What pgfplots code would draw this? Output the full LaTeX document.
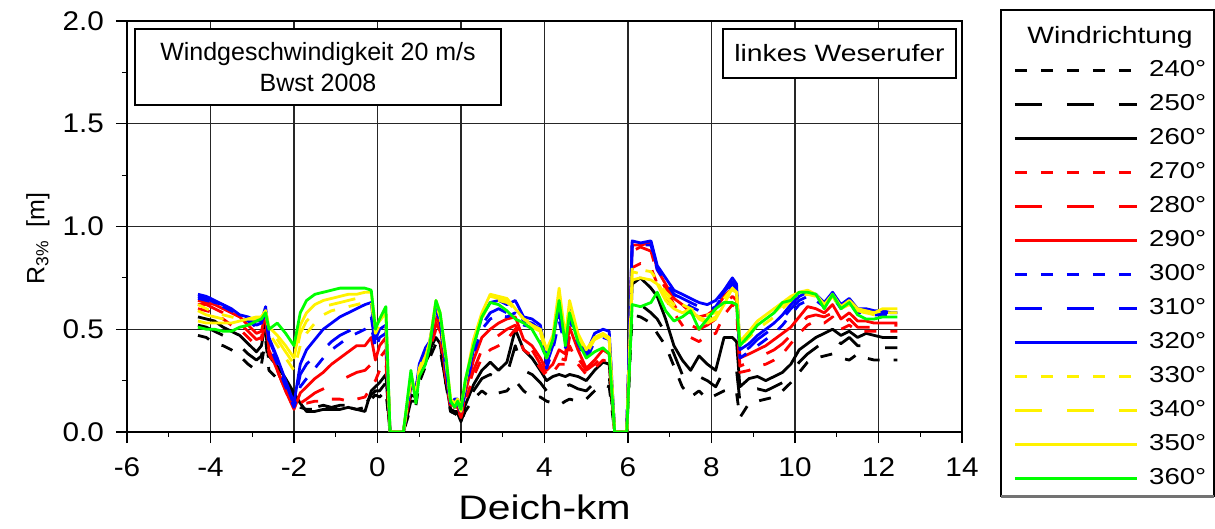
\documentclass[border=0pt]{standalone}
\usepackage{fontspec}
\setmainfont{Liberation Sans}
\newfontfamily\semisans{Liberation Sans}[FakeStretch=1.1]
\usepackage{graphicx}
\usepackage{pgfplots}
\usepackage{pgfplotstable}
\pgfplotsset{compat=1.18}
% horizontally widened text, as used in the legend and labels
\newcommand\wx[1]{\scalebox{1.2}[1]{#1}}

% R3% run-up along the left Weser bank, one column per wind direction
\pgfplotstableread{
x      d240 d250 d260 d270 d280 d290 d300 d310 d320 d330 d340 d350 d360
-4.30  .47  .52  .56  .60  .62  .64  .65  .66  .67  .62  .59  .54  .51
-4.10  .46  .51  .55  .59  .62  .63  .64  .65  .66  .60  .57  .53  .50
-3.90  .43  .49  .54  .58  .60  .62  .63  .63  .64  .58  .56  .53  .50
-3.70  .42  .47  .51  .55  .58  .60  .61  .62  .62  .57  .55  .53  .49
-3.50  .40  .45  .49  .52  .56  .58  .59  .60  .60  .56  .55  .53  .49
-3.30  .37  .42  .47  .50  .53  .56  .57  .57  .57  .55  .55  .54  .51
-3.10  .33  .38  .43  .46  .49  .52  .54  .55  .56  .55  .55  .55  .52
-2.90  .30  .35  .39  .42  .45  .48  .51  .52  .54  .55  .55  .56  .54
-2.78  .33  .37  .42  .44  .46  .49  .52  .53  .54  .55  .56  .56  .55
-2.68  .45  .50  .53  .55  .57  .58  .59  .60  .61  .59  .59  .59  .58
-2.60  .30  .33  .37  .38  .40  .40  .43  .45  .46  .48  .50  .51  .50
-2.40  .26  .29  .32  .30  .30  .30  .33  .35  .36  .42  .45  .47  .53
-2.20  .22  .24  .26  .20  .20  .20  .22  .24  .25  .36  .39  .42  .48
-2.00  .17  .18  .19  .12  .11  .11  .12  .13  .14  .30  .33  .36  .42
-1.85  .12  .13  .14  .14  .14  .19  .22  .28  .33  .42  .48  .52  .58
-1.70  .11  .12  .10  .14  .16  .22  .26  .33  .40  .48  .54  .58  .64
-1.50  .11  .12  .10  .15  .19  .26  .31  .37  .45  .53  .58  .62  .67
-1.30  .12  .13  .11  .15  .21  .29  .36  .40  .50  .57  .61  .64  .68
-1.10  .11  .12  .11  .16  .23  .33  .40  .44  .53  .59  .62  .65  .69
-0.90  .12  .13  .11  .16  .25  .36  .43  .47  .56  .60  .63  .66  .70
-0.70  .12  .13  .12  .15  .27  .39  .46  .49  .58  .61  .64  .67  .70
-0.50  .11  .12  .11  .16  .29  .42  .48  .51  .60  .62  .65  .67  .70
-0.30  .12  .13  .10  .17  .30  .42  .50  .53  .62  .63  .66  .68  .70
-0.15  .16  .18  .20  .22  .33  .46  .52  .56  .63  .64  .66  .68  .69
-0.05  .18  .20  .22  .25  .30  .35  .40  .42  .45  .48  .50  .52  .50
 0.05  .17  .20  .24  .30  .36  .42  .46  .48  .50  .52  .53  .54  .55
 0.20  .20  .24  .28  .34  .40  .46  .48  .50  .52  .54  .56  .58  .61
 0.30  0    0    0    0    0    0    0    0    0    0    0    0    0
 0.62  0    0    0    0    0    0    0    0    0    0    0    0    0
 0.80  .12  .15  .18  .20  .21  .22  .23  .24  .25  .25  .26  .28  .30
 0.92  .13  .15  .17  .19  .20  .20  .20  .20  .20  .18  .18  .18  .14
 1.00  .24  .26  .28  .29  .30  .30  .32  .32  .33  .31  .30  .30  .27
 1.15  .32  .34  .36  .37  .38  .39  .40  .40  .41  .38  .37  .36  .33
 1.25  .36  .38  .40  .40  .41  .42  .43  .43  .44  .43  .43  .44  .42
 1.40  .43  .44  .46  .50  .53  .56  .59  .60  .61  .62  .63  .64  .64
 1.50  .40  .41  .43  .46  .49  .52  .54  .55  .56  .56  .57  .58  .58
 1.65  .22  .22  .23  .24  .25  .26  .28  .29  .30  .32  .33  .35  .35
 1.75  .10  .10  .11  .12  .12  .13  .13  .14  .14  .15  .15  .16  .15
 1.85  .09  .09  .10  .11  .12  .13  .14  .15  .16  .14  .14  .14  .12
 1.92  .08  .09  .10  .11  .12  .13  .14  .15  .16  .15  .16  .16  .15
 2.00  .05  .05  .06  .07  .08  .08  .09  .10  .10  .10  .11  .12  .11
 2.10  .10  .11  .13  .15  .17  .19  .20  .21  .22  .23  .24  .24  .25
 2.30  .16  .20  .23  .27  .30  .35  .38  .40  .42  .43  .44  .45  .42
 2.50  .20  .26  .30  .36  .40  .46  .50  .52  .56  .55  .57  .58  .56
 2.70  .17  .28  .34  .40  .44  .50  .55  .58  .63  .64  .66  .67  .63
 2.90  .19  .26  .30  .42  .47  .53  .57  .60  .64  .64  .65  .66  .62
 3.10  .20  .28  .34  .45  .50  .55  .56  .58  .62  .63  .64  .65  .59
 3.30  .25  .42  .50  .50  .52  .56  .58  .61  .64  .60  .59  .60  .55
 3.50  .20  .30  .40  .40  .43  .45  .52  .54  .56  .55  .54  .55  .53
 3.70  .17  .28  .36  .37  .40  .42  .51  .53  .55  .53  .51  .52  .50
 3.90  .17  .24  .30  .31  .33  .36  .48  .50  .52  .50  .49  .50  .43
 4.05  .15  .20  .25  .27  .28  .30  .31  .33  .36  .36  .36  .40  .36
 4.20  .14  .22  .27  .29  .30  .33  .40  .42  .44  .44  .45  .47  .45
 4.35  .13  .24  .28  .33  .36  .40  .54  .58  .62  .66  .68  .70  .64
 4.50  .15  .22  .27  .33  .35  .38  .41  .43  .45  .43  .44  .46  .42
 4.60  .16  .23  .28  .42  .46  .51  .55  .57  .60  .61  .62  .64  .58
 4.80  .15  .21  .27  .33  .36  .40  .43  .45  .46  .46  .47  .48  .44
 5.00  .16  .20  .25  .28  .30  .31  .35  .37  .38  .38  .39  .40  .36
 5.20  .20  .24  .30  .31  .33  .35  .44  .46  .48  .45  .45  .46  .39
 5.40  .23  .28  .34  .35  .37  .40  .46  .48  .50  .47  .47  .48  .41
 5.55  .22  .27  .33  .34  .36  .38  .45  .47  .49  .46  .45  .46  .38
 5.68  0    0    0    0    0    0    0    0    0    0    0    0    0
 5.97  0    0    0    0    0    0    0    0    0    0    0    0    0
 6.10  .57  .63  .72  .80  .88  .91  .91  .92  .93  .80  .78  .74  .62
 6.30  .56  .62  .75  .82  .90  .91  .91  .91  .92  .79  .77  .75  .61
 6.55  .53  .58  .70  .80  .88  .92  .91  .92  .93  .78  .76  .74  .63
 6.70  .48  .55  .66  .72  .77  .79  .79  .80  .81  .74  .73  .72  .68
 6.90  .42  .48  .55  .65  .70  .72  .73  .74  .75  .68  .66  .64  .59
 7.10  .32  .38  .42  .58  .62  .65  .67  .67  .69  .64  .62  .60  .54
 7.30  .22  .28  .35  .52  .56  .62  .64  .65  .67  .62  .60  .58  .56
 7.50  .17  .24  .30  .46  .52  .58  .61  .63  .65  .60  .58  .60  .59
 7.70  .20  .27  .37  .44  .50  .56  .59  .61  .63  .58  .56  .55  .50
 7.90  .16  .25  .33  .47  .52  .57  .59  .61  .62  .57  .54  .53  .55
 8.10  .18  .22  .30  .48  .55  .60  .61  .63  .64  .58  .56  .55  .60
 8.30  .20  .30  .46  .57  .62  .66  .67  .68  .69  .65  .63  .62  .63
 8.50  .21  .32  .46  .62  .66  .70  .72  .73  .75  .70  .69  .70  .63
 8.60  .19  .30  .44  .60  .64  .68  .70  .71  .72  .68  .68  .68  .62
 8.68  .07  .15  .22  .29  .32  .36  .36  .38  .40  .42  .43  .44  .42
 8.90  .14  .20  .26  .30  .34  .38  .39  .41  .43  .46  .47  .49  .47
 9.10  .15  .21  .27  .32  .36  .40  .42  .45  .47  .50  .52  .54  .52
 9.30  .16  .20  .25  .33  .38  .42  .45  .48  .50  .53  .55  .57  .55
 9.50  .17  .22  .27  .35  .40  .45  .48  .51  .53  .56  .58  .60  .58
 9.70  .20  .24  .29  .38  .43  .48  .52  .55  .57  .60  .62  .63  .63
 9.90  .24  .28  .33  .43  .47  .51  .57  .60  .62  .64  .65  .66  .64
10.10  .29  .34  .40  .48  .52  .56  .62  .64  .66  .66  .67  .68  .68
10.30  .34  .38  .43  .52  .56  .61  .64  .66  .68  .67  .68  .69  .68
10.50  .36  .41  .46  .54  .57  .60  .64  .66  .67  .66  .66  .67  .67
10.70  .37  .44  .48  .53  .56  .58  .61  .62  .63  .61  .62  .62  .60
10.90  .38  .46  .50  .56  .58  .62  .66  .67  .68  .66  .66  .67  .67
11.10  .36  .43  .47  .50  .52  .55  .60  .61  .62  .60  .60  .61  .60
11.30  .35  .46  .49  .52  .55  .58  .63  .64  .65  .62  .63  .64  .63
11.50  .38  .42  .46  .49  .51  .54  .58  .59  .60  .59  .59  .60  .57
11.70  .36  .42  .48  .49  .51  .54  .58  .59  .60  .58  .58  .59  .55
11.90  .35  .41  .47  .49  .51  .53  .57  .58  .59  .57  .58  .58  .55
12.10  .35  .41  .46  .49  .52  .53  .57  .58  .59  .58  .59  .60  .56
12.30  .35  .41  .46  .49  .52  .53  .57  .58  .58  .58  .59  .60  .56
12.45  .35  .41  .46  .49  .52  .53  .57  .58  .58  .58  .59  .60  .56
}\runup

\tikzset{
  sdash/.style={dash pattern=on 6pt off 7pt},
  ldash/.style={dash pattern=on 13.5pt off 12.5pt},
}

\begin{document}
\begin{tikzpicture}
\begin{axis}[
  at={(0,0)}, anchor=south west,
  scale only axis, width=417.5pt, height=205.5pt,
  xmin=-6, xmax=14, ymin=0, ymax=2,
  xtick={-6,-4,...,14}, minor xtick={-5,-3,...,13},
  xticklabels={-6,-4,-2,0,2,4,6,8,10,12,14},
  ytick={0,0.5,1,1.5,2}, minor ytick={0.25,0.75,1.25,1.75},
  yticklabels={0.0,0.5,1.0,1.5,2.0},
  xtick pos=lower, ytick pos=left,
  grid=major, major grid style={black!85, line width=0.6pt},
  axis line style={black, line width=0.6pt},
  tick align=outside, major tick length=5.5pt, minor tick length=2.5pt,
  tick style={black, line width=0.6pt},
  ticklabel style={font=\semisans\fontsize{13.5}{14}\selectfont},
  xticklabel style={anchor=base, yshift=-16.5pt},
  yticklabel style={anchor=east, xshift=-2.5pt},
  xlabel={\wx{Deich-km}},
  ylabel={R\textsubscript{3\%}\hspace{0.5em}[m]},
  every axis x label/.style={at={(axis description cs:0.5,0)}, anchor=base, yshift=-44pt,
    font=\fontsize{17}{18}\selectfont},
  every axis y label/.style={at={(axis description cs:-0.1066,0.47)}, rotate=90, anchor=center,
    font=\fontsize{12.5}{14}\selectfont},
  legend image code/.code={\draw[#1] (0pt,0pt) -- (61pt,0pt);},
  legend style={at={(443pt,186pt)}, anchor=north west, draw=none, fill=none,
    inner sep=0pt, row sep=7pt, column sep=5.5pt,
    font=\fontsize{11.5}{11.5}\selectfont,
    nodes={inner sep=0pt, text height=8pt, text depth=2pt}},
  legend cell align=left,
  every axis plot/.append style={line width=1.4pt, line join=round},
]
\addplot[black, sdash] table[x=x, y=d240] {\runup};
\addplot[black, ldash] table[x=x, y=d250] {\runup};
\addplot[black]        table[x=x, y=d260] {\runup};
\addplot[red, sdash]   table[x=x, y=d270] {\runup};
\addplot[red, ldash]   table[x=x, y=d280] {\runup};
\addplot[red]          table[x=x, y=d290] {\runup};
\addplot[blue, sdash]  table[x=x, y=d300] {\runup};
\addplot[blue, ldash]  table[x=x, y=d310] {\runup};
\addplot[blue]         table[x=x, y=d320] {\runup};
\addplot[yellow, sdash] table[x=x, y=d330] {\runup};
\addplot[yellow, ldash] table[x=x, y=d340] {\runup};
\addplot[yellow]       table[x=x, y=d350] {\runup};
\addplot[green]        table[x=x, y=d360] {\runup};
\legend{\wx{240°},\wx{250°},\wx{260°},\wx{270°},\wx{280°},\wx{290°},\wx{300°},
  \wx{310°},\wx{320°},\wx{330°},\wx{340°},\wx{350°},\wx{360°}}
\end{axis}
% annotation boxes inside the plot area
\node[draw=black, fill=white, line width=0.6pt, minimum width=183pt, minimum height=38pt,
  align=center, inner sep=0pt, font=\fontsize{12.5}{15.5}\selectfont]
  at (95.5pt,182.5pt) {Windgeschwindigkeit 20 m/s\\Bwst 2008};
\node[draw=black, fill=white, line width=0.6pt, minimum width=116.5pt, minimum height=24.5pt,
  inner sep=0pt, font=\fontsize{11.8}{14}\selectfont]
  at (356.25pt,189.25pt) {\wx{linkes Weserufer}};
% legend frame and heading
\draw[black, line width=0.6pt] (543.5pt,-32pt) -- (437pt,-32pt) -- (437pt,211pt) -- (543.5pt,211pt) -- cycle;
\draw[black!55, line width=1.2pt] (437pt,-32.3pt) -- (543.5pt,-32.3pt);
\node[anchor=base, font=\fontsize{11.8}{12}\selectfont] at (491.5pt,194pt) {\wx{Windrichtung}};
\pgfresetboundingbox
\path (-63.5pt,-48.5pt) rectangle (544pt,216pt);
\end{tikzpicture}
\end{document}
